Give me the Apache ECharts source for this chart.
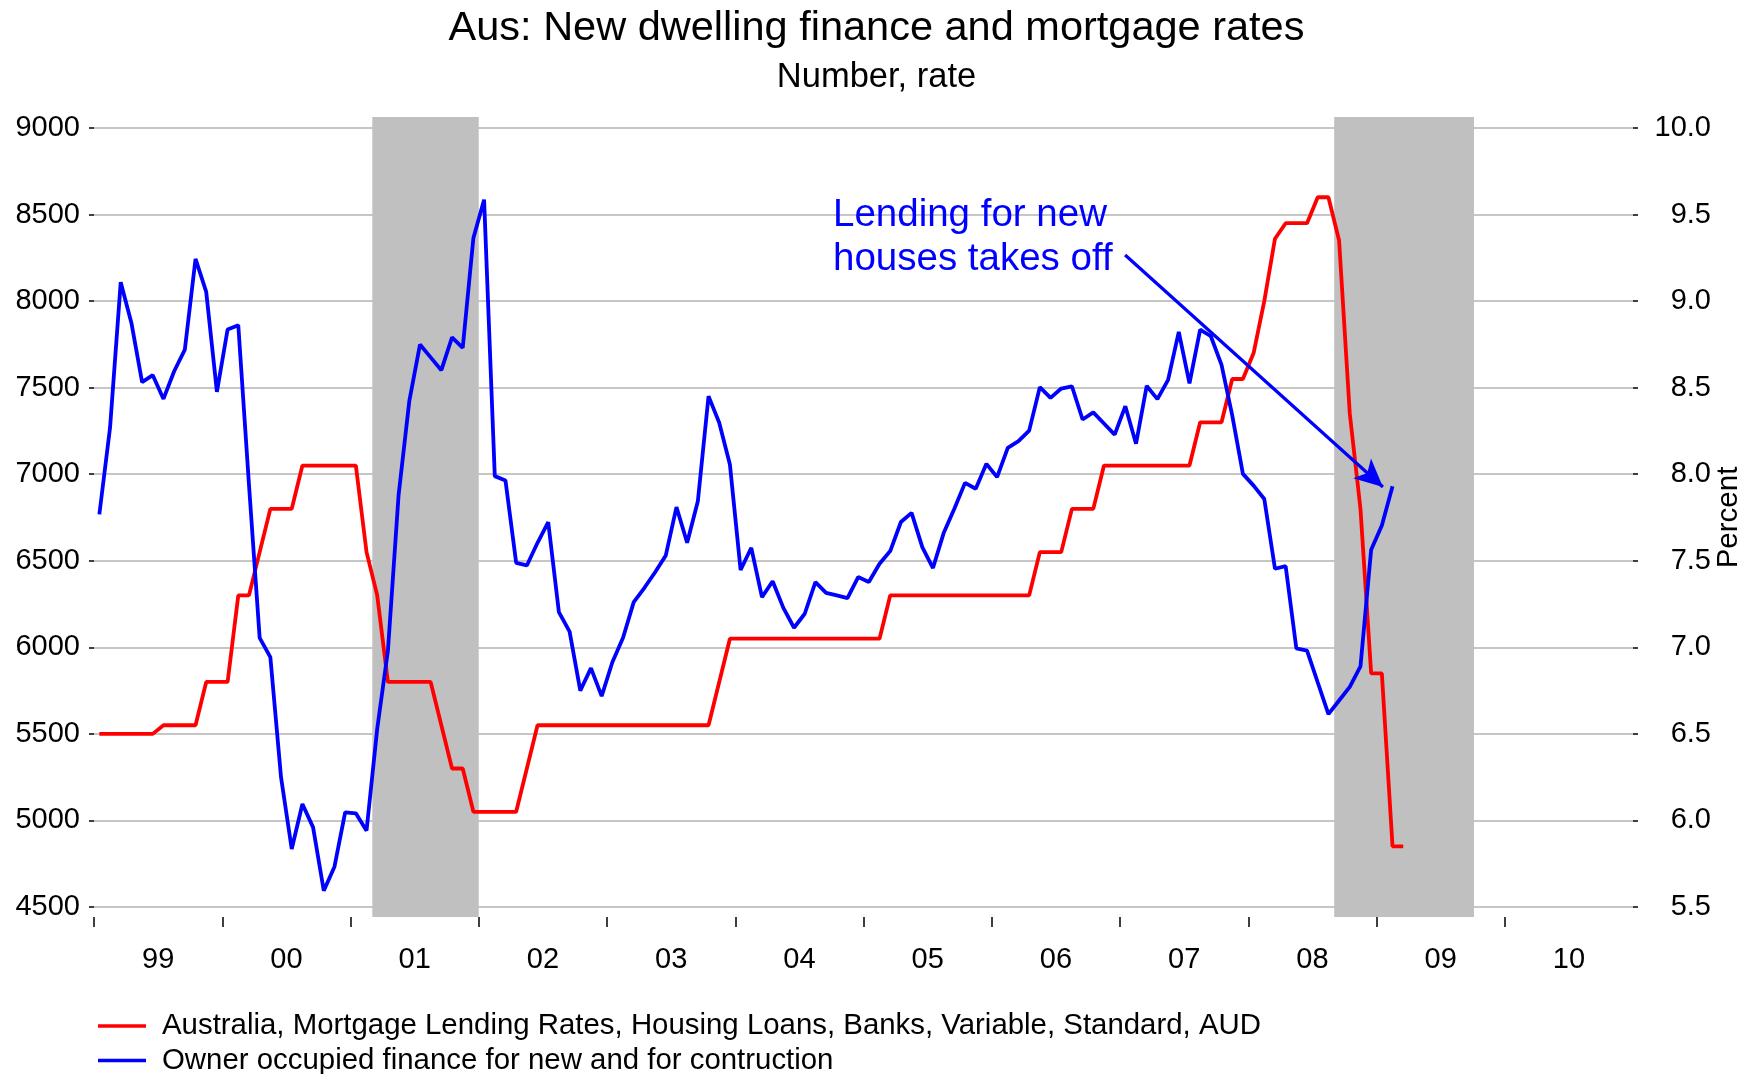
<!DOCTYPE html>
<html><head><meta charset="utf-8">
<script src="https://cdn.jsdelivr.net/npm/echarts@6/dist/echarts.min.js"></script>
<style>html,body{margin:0;padding:0;background:#fff}#c{width:1753px;height:1074px}</style>
</head><body><div id="c"></div>
<script>
// ---- data (monthly, starting Jan 1999) ----
const startYear = 1999;
const yearLabels = ['99','00','01','02','03','04','05','06','07','08','09','10'];
const financeName = 'Owner occupied finance for new and for contruction';
const rateName = 'Australia, Mortgage Lending Rates, Housing Loans, Banks, Variable, Standard, AUD';
const financeValues = [
  6768,7268,8109,7874,7532,7572,7435,7595,7720,8244,8053,7476,
  7836,7861,6940,6055,5943,5249,4835,5095,4960,4594,4733,5047,
  5041,4941,5530,5980,6880,7422,7749,7675,7601,7791,7730,8365,
  8586,6989,6964,6488,6473,6604,6723,6203,6091,5750,5880,5718,
  5914,6055,6261,6344,6434,6531,6810,6604,6844,7451,7297,7056,
  6447,6575,6290,6382,6228,6113,6194,6377,6315,6300,6284,6406,
  6377,6483,6556,6724,6777,6579,6458,6660,6800,6950,6916,7060,
  6983,7152,7191,7252,7503,7441,7495,7508,7316,7357,7293,7229,
  7393,7176,7510,7434,7545,7822,7525,7835,7797,7632,7340,7002,
  6934,6857,6454,6469,5994,5981,5797,5614,5693,5772,5890,6564,
  6704,6931
];
const mortgageRates = [
  6.50,6.50,6.50,6.50,6.50,6.50,6.55,6.55,6.55,6.55,6.80,6.80,
  6.80,7.30,7.30,7.55,7.80,7.80,7.80,8.05,8.05,8.05,8.05,8.05,
  8.05,7.55,7.30,6.80,6.80,6.80,6.80,6.80,6.55,6.30,6.30,6.05,
  6.05,6.05,6.05,6.05,6.30,6.55,6.55,6.55,6.55,6.55,6.55,6.55,
  6.55,6.55,6.55,6.55,6.55,6.55,6.55,6.55,6.55,6.55,6.80,7.05,
  7.05,7.05,7.05,7.05,7.05,7.05,7.05,7.05,7.05,7.05,7.05,7.05,
  7.05,7.05,7.30,7.30,7.30,7.30,7.30,7.30,7.30,7.30,7.30,7.30,
  7.30,7.30,7.30,7.30,7.55,7.55,7.55,7.80,7.80,7.80,8.05,8.05,
  8.05,8.05,8.05,8.05,8.05,8.05,8.05,8.30,8.30,8.30,8.55,8.55,
  8.70,9.00,9.36,9.45,9.45,9.45,9.60,9.60,9.35,8.35,7.80,6.85,
  6.85,5.85,5.85
];
const leftTicks = [4500,5000,5500,6000,6500,7000,7500,8000,8500,9000];
const rightTicks = [5.5,6.0,6.5,7.0,7.5,8.0,8.5,9.0,9.5,10.0];
const recessionBands = [[2001.17, 2002.0], [2008.67, 2009.76]];
const annotationLines = ['Lending for new', 'houses takes off'];
const arrowFrom = [2007.04, 8266];
const arrowTo = [2009.05, 6926];

// ---- build ----
const monthX = i => startYear + (i + 0.5) / 12;
const financeData = financeValues.map((v, i) => [monthX(i), v]);
const rateData = mortgageRates.map((v, i) => [monthX(i), v]);
const tickYears = yearLabels.map((_, k) => startYear + k);
const labelYears = yearLabels.map((_, k) => startYear + k + 0.5);
const FONT = "'Liberation Sans', Arial, Helvetica, sans-serif";
const xMin = startYear, xMax = startYear + yearLabels.length;
const RED = '#ff0000', BLUE = '#0000ff';

const chart = echarts.init(document.getElementById('c'), null, {renderer: 'canvas'});
chart.setOption({
  animation: false,
  backgroundColor: '#ffffff',
  textStyle: {fontFamily: FONT},
  title: [
    {text: 'Aus: New dwelling finance and mortgage rates', left: 'center', top: 3,
     textStyle: {fontSize: 41.5, fontWeight: 'normal', color: '#000', fontFamily: FONT}},
    {text: 'Number, rate', left: 'center', top: 55,
     textStyle: {fontSize: 34.5, fontWeight: 'normal', color: '#000', fontFamily: FONT}}
  ],
  legend: {
    orient: 'vertical', left: 98, top: 1011, itemGap: 4.5, padding: 0, height: 200,
    itemWidth: 48, itemHeight: 3.5, icon: 'rect',
    data: [
      {name: rateName, itemStyle: {color: RED}},
      {name: financeName, itemStyle: {color: BLUE}}
    ],
    textStyle: {fontSize: 29.4, color: '#000', fontFamily: FONT, lineHeight: 30, padding: [0, 0, 0, 11]}
  },
  grid: [
    {left: 94, right: 120, top: 128, bottom: 167, containLabel: false, outerBoundsMode: 'none'},
    {left: 94, right: 120, top: 117, bottom: 157, containLabel: false, outerBoundsMode: 'none'}
  ],
  xAxis: [
    {type: 'value', gridIndex: 0, min: xMin, max: xMax, offset: 10,
     axisLine: {show: false}, splitLine: {show: false},
     axisTick: {show: true, length: 10, customValues: tickYears, lineStyle: {color: '#000', width: 1.5}},
     axisLabel: {customValues: labelYears, margin: 28, fontSize: 29, color: '#000', fontFamily: FONT,
       formatter: v => yearLabels[Math.floor(v) - startYear]}},
    {type: 'value', gridIndex: 1, min: xMin, max: xMax, show: false}
  ],
  yAxis: [
    {type: 'value', gridIndex: 0, position: 'left', min: leftTicks[0], max: leftTicks[leftTicks.length-1], interval: 500,
     axisLine: {show: false},
     axisTick: {show: true, length: 5, lineStyle: {color: '#000', width: 1.5}},
     axisLabel: {margin: 14, fontSize: 29, color: '#000', fontFamily: FONT, formatter: v => String(v)},
     splitLine: {show: true, lineStyle: {color: '#c6c6c6', width: 2}}},
    {type: 'value', gridIndex: 0, position: 'right', min: rightTicks[0], max: rightTicks[rightTicks.length-1], interval: 0.5,
     axisLine: {show: false},
     axisTick: {show: true, length: 5, lineStyle: {color: '#000', width: 1.5}},
     axisLabel: {margin: 78, align: 'right', fontSize: 29, color: '#000', fontFamily: FONT, formatter: v => v.toFixed(1)},
     splitLine: {show: false},
     name: 'Percent', nameLocation: 'middle', nameRotate: 90, nameGap: 81, nameMoveOverlap: false,
     nameTextStyle: {fontSize: 29.5, color: '#000', fontFamily: FONT}},
    {type: 'value', gridIndex: 1, min: 0, max: 1, show: false}
  ],
  graphic: [{
    type: 'text', left: 833, top: 193, z: 10,
    style: {text: annotationLines.join('\n'), font: "38.5px 'Liberation Sans', Arial, sans-serif", fill: BLUE, lineHeight: 44}
  }],
  series: [
    {name: 'bands', type: 'line', xAxisIndex: 1, yAxisIndex: 2, data: [[xMin, 0]], symbol: 'none', silent: true,
     lineStyle: {opacity: 0}, z: 1,
     markArea: {silent: true, itemStyle: {color: '#c0c0c0'},
       data: recessionBands.map(b => [{xAxis: b[0]}, {xAxis: b[1]}])}},
    {name: rateName, type: 'line', xAxisIndex: 0, yAxisIndex: 1, data: rateData, symbol: 'none',
     lineStyle: {color: RED, width: 3.8}, itemStyle: {color: RED}, z: 3},
    {name: financeName, type: 'line', xAxisIndex: 0, yAxisIndex: 0, data: financeData, symbol: 'none',
     lineStyle: {color: BLUE, width: 3.8}, itemStyle: {color: BLUE}, z: 4,
     markLine: {silent: true, symbol: ['none', 'arrow'], symbolSize: [20, 28],
       lineStyle: {color: BLUE, width: 3.2, type: 'solid'}, label: {show: false},
       data: [[{coord: arrowFrom}, {coord: arrowTo}]]}}
  ]
});
</script></body></html>
